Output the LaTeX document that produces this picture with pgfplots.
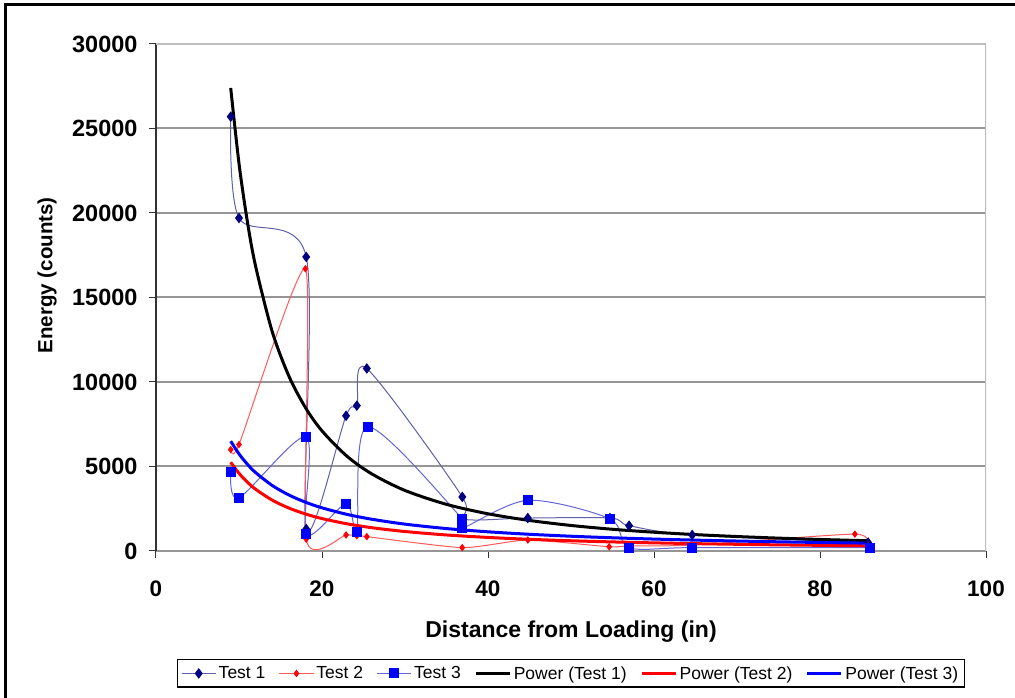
\documentclass[border=0pt]{standalone}
\usepackage{pgfplots}
\pgfplotsset{compat=1.18}
\usepackage{fontspec}
\setmainfont{Liberation Sans}

\definecolor{navy}{RGB}{0,0,128}
\definecolor{t1line}{RGB}{96,96,168}
\definecolor{t2line}{RGB}{255,90,90}
\definecolor{t3line}{RGB}{100,100,220}
\definecolor{gridgray}{RGB}{150,150,150}
\definecolor{framegray}{RGB}{190,190,190}

\begin{document}
\begin{tikzpicture}[x=1pt,y=1pt]
\useasboundingbox (0,0) rectangle (1015,698);
% outer frame (top and left edges)
\draw[line width=3pt] (5.5,0) -- (5.5,693.5) -- (1015,693.5);
\begin{axis}[
  at={(156pt,147pt)}, anchor=south west,
  width=830pt, height=507pt, scale only axis,
  xmin=0, xmax=100, ymin=0, ymax=30000,
  xtick={0,20,...,100}, ytick={0,5000,...,30000},
  scaled y ticks=false,
  /pgf/number format/.cd, 1000 sep={}, assume math mode=true, /pgfplots/.cd,
  xticklabel style={font=\fontsize{22.5}{22.5}\selectfont\bfseries, yshift=-19pt},
  yticklabel style={font=\fontsize{23.5}{23.5}\selectfont\bfseries, xshift=-8pt},
  axis x line*=bottom, axis y line*=left,
  x axis line style={draw=gridgray, line width=2pt, -},
  y axis line style={draw=black!80, line width=1.2pt, -},
  tick align=outside, major tick length=7pt,
  tick style={black!80, line width=1pt},
  ymajorgrids, grid style={gridgray, line width=2pt},
  xlabel={Distance from Loading (in)},
  ylabel={Energy (counts)},
  xlabel style={font=\fontsize{23}{23}\selectfont\bfseries, at={(axis description cs:0.5,-0.158)}, anchor=center},
  ylabel style={font=\fontsize{20.5}{20.5}\selectfont\bfseries, at={(axis description cs:-0.1313,0.544)}, anchor=center},
  legend style={at={(0.5,-0.2416)}, anchor=center, legend columns=6,
    draw=black, line width=1.2pt, inner sep=4pt,
    nodes={inner sep=2.5pt},
    font=\fontsize{17.5}{18}\selectfont,
    /tikz/every even column/.append style={column sep=11pt}},
  legend cell align=left,
  legend image code/.code={\draw[#1, mark repeat=2, mark phase=2] plot coordinates {(0pt,0pt) (17pt,0pt) (34pt,0pt)};},
]
% measured series
\addplot[t1line, line width=1pt, smooth, tension=0.5, mark=diamond*, mark size=4.5pt,
  mark options={draw=navy, fill=navy}] coordinates {
  (9,25700) (10,19700) (18.1,17400) (18.1,1300) (22.9,8000) (24.2,8600) (25.4,10800)
  (36.9,3200) (36.9,1900) (44.8,1950) (54.7,1950) (57,1500) (64.6,950) (85.8,500)};
\addlegendentry{Test 1}
\addplot[t2line, line width=1pt, smooth, tension=0.35, mark=diamond*, mark size=3pt,
  mark options={draw=red, fill=red}] coordinates {
  (9,6000) (10,6300) (18,16700) (18.1,700) (22.9,950) (24.2,900) (25.4,850)
  (36.9,200) (44.8,650) (54.6,250) (57,300) (64.6,350) (84.2,1000) (85.8,300)};
\addlegendentry{Test 2}
\addplot[t3line, line width=1pt, smooth, tension=0.5, mark=square*, mark size=4.5pt,
  mark options={draw=blue, fill=blue}] coordinates {
  (9,4700) (10,3150) (18.1,6750) (18.1,1000) (22.9,2800) (24.2,1150) (25.5,7350)
  (36.9,1900) (36.9,1350) (44.8,3000) (54.7,1900) (57,200) (64.6,200) (86,200)};
\addlegendentry{Test 3}
% power-law trend lines
\addplot[black, line width=3pt, smooth, no markers] coordinates {
  (9,27400) (10,22930) (11,19520) (12,16850) (14,12985) (16,10360) (18,8490) (20,7107)
  (23,5612) (26,4562) (30,3581) (35,2760) (40,2202) (45,1806) (50,1511) (55,1285)
  (60,1110) (65,969) (70,856) (75,761) (80,683) (86,604)};
\addlegendentry{Power (Test 1)}
\addplot[red, line width=3pt, smooth, no markers] coordinates {
  (9,5250) (10,4597) (11,4077) (12,3654) (14,3009) (16,2543) (18,2192) (20,1919)
  (23,1610) (26,1379) (30,1152) (35,949) (40,802) (45,691) (50,605) (55,537)
  (60,481) (65,435) (70,396) (75,363) (80,335) (86,306)};
\addlegendentry{Power (Test 2)}
\addplot[blue, line width=3pt, smooth, no markers] coordinates {
  (9,6500) (10,5746) (11,5140) (12,4642) (14,3877) (16,3316) (18,2889) (20,2554)
  (23,2168) (26,1879) (30,1589) (35,1327) (40,1135) (45,989) (50,874) (55,782)
  (60,706) (65,643) (70,590) (75,544) (80,504) (86,464)};
\addlegendentry{Power (Test 3)}
% plot-area frame, top and right
\draw[framegray, line width=2pt] (rel axis cs:0,1) -- (rel axis cs:1,1) -- (rel axis cs:1,0);
\end{axis}
\end{tikzpicture}
\end{document}
